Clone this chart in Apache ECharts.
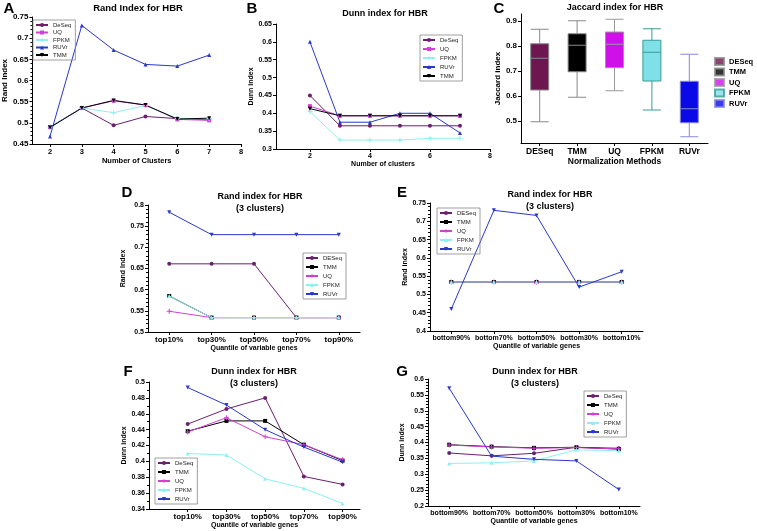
<!DOCTYPE html>
<html>
<head>
<meta charset="utf-8">
<script src="https://cdn.jsdelivr.net/npm/echarts@6/dist/echarts.min.js"></script>
<style>
  html, body { margin: 0; padding: 0; background: #fff; }
  #chart { width: 757px; height: 531px; }
</style>
</head>
<body>
<div id="chart"></div>
<script>
// A / B : number of clusters
var clusterCounts = [2, 3, 4, 5, 6, 7];
var randA_DeSeq = [0.490, 0.535, 0.494, 0.515, 0.510, 0.507];
var randA_UQ = [0.490, 0.535, 0.552, 0.542, 0.508, 0.506];
var randA_FPKM = [0.490, 0.535, 0.524, 0.541, 0.510, 0.510];
var randA_RUVr = [0.468, 0.730, 0.672, 0.638, 0.634, 0.660];
var randA_TMM = [0.489, 0.535, 0.553, 0.542, 0.509, 0.511];

var dunnB_DeSeq = [0.450, 0.365, 0.365, 0.365, 0.365, 0.365];
var dunnB_UQ = [0.420, 0.393, 0.393, 0.393, 0.393, 0.393];
var dunnB_FPKM = [0.405, 0.325, 0.325, 0.325, 0.330, 0.330];
var dunnB_RUVr = [0.600, 0.375, 0.375, 0.400, 0.400, 0.345];
var dunnB_TMM = [0.413, 0.393, 0.393, 0.393, 0.393, 0.393];

// C : jaccard index, [min, q1, median, q3, max]
var methods = ['DESeq', 'TMM', 'UQ', 'FPKM', 'RUVr'];
var jaccardBoxes = [
  [0.497, 0.624, 0.751, 0.809, 0.867],
  [0.595, 0.697, 0.803, 0.849, 0.901],
  [0.621, 0.713, 0.807, 0.856, 0.907],
  [0.544, 0.660, 0.775, 0.823, 0.869],
  [0.437, 0.493, 0.549, 0.659, 0.767]
];
var jaccardTicks = [0.5, 0.6, 0.7, 0.8, 0.9];

// D / F : top quantiles, E / G : bottom quantiles
var topQuantiles = ['top10%', 'top30%', 'top50%', 'top70%', 'top90%'];
var bottomQuantiles = ['bottom90%', 'bottom70%', 'bottom50%', 'bottom30%', 'bottom10%'];

var randD_DESeq = [0.661, 0.661, 0.661, 0.534, 0.534];
var randD_TMM = [0.585, 0.534, 0.534, 0.534, 0.534];
var randD_UQ = [0.549, 0.534, 0.534, 0.534, 0.534];
var randD_FPKM = [0.585, 0.534, 0.534, 0.534, 0.534];
var randD_RUVr = [0.783, 0.730, 0.730, 0.730, 0.730];

var randE_DESeq = [0.534, 0.534, 0.534, 0.534, 0.534];
var randE_TMM = [0.534, 0.534, 0.534, 0.534, 0.534];
var randE_UQ = [0.534, 0.534, 0.534, 0.534, 0.534];
var randE_FPKM = [0.534, 0.534, 0.534, 0.534, 0.534];
var randE_RUVr = [0.460, 0.730, 0.716, 0.520, 0.562];

var dunnF_DeSeq = [0.447, 0.466, 0.480, 0.381, 0.371];
var dunnF_TMM = [0.438, 0.451, 0.451, 0.421, 0.401];
var dunnF_UQ = [0.437, 0.455, 0.431, 0.421, 0.402];
var dunnF_FPKM = [0.410, 0.408, 0.378, 0.366, 0.347];
var dunnF_RUVr = [0.493, 0.471, 0.440, 0.418, 0.399];

var dunnG_DeSeq = [0.367, 0.358, 0.366, 0.385, 0.382];
var dunnG_TMM = [0.393, 0.387, 0.383, 0.385, 0.379];
var dunnG_UQ = [0.392, 0.386, 0.382, 0.384, 0.380];
var dunnG_FPKM = [0.334, 0.336, 0.342, 0.377, 0.374];
var dunnG_RUVr = [0.571, 0.357, 0.347, 0.342, 0.252];

var FONT = '"Liberation Sans", Arial, sans-serif';
var cDeSeq = '#6b1f6e';
var cTMM = '#000000';
var cUQ = '#d23fd6';
var cFPKM = '#8ef0f0';
var cRUVr = '#2a38cc';
var boxFill = ['#6e1650', '#000000', '#d010e8', '#80e0e8', '#0a0ae6'];
var boxEdge = ['#888888', '#888888', '#999999', '#3a9a9a', '#8888dd'];

var triDown = 'path://M0,0L10,0L5,9Z';
var plusMark = 'path://M4,0H6V4H10V6H6V10H4V6H0V4H4Z';

function pairs (xs, ys) {
  return ys.map(function (v, i) { return [xs[i], v] })
}
function indexed (ys) {
  return ys.map(function (v, i) { return [i + 1, v] })
}

function line (name, idx, data, color, symbol, size, z) {
  return {
    type: 'line',
    name: name,
    xAxisIndex: idx,
    yAxisIndex: idx,
    data: data,
    symbol: symbol,
    symbolSize: size || 4,
    showAllSymbol: true,
    z: z || 2,
    lineStyle: { color: color, width: 1 },
    itemStyle: { color: color },
    animation: false
  }
}

var axisBase = {
  axisLine: { show: true, onZero: false, lineStyle: { color: '#000', width: 1 } },
  axisTick: { show: true, length: 3, lineStyle: { color: '#000' } },
  splitLine: { show: false }
}

function yAx (idx, min, max, interval, name, gap, fs, minor) {
  return Object.assign({}, axisBase, {
    type: 'value',
    gridIndex: idx,
    min: min,
    max: max,
    interval: interval,
    name: name,
    nameLocation: 'middle',
    nameGap: gap,
    nameTextStyle: { fontFamily: FONT, fontWeight: 'bold', fontSize: fs, color: '#000' },
    axisLabel: { fontFamily: FONT, fontWeight: 'bold', fontSize: fs, color: '#000', margin: 4 },
    minorTick: { show: !!minor, splitNumber: minor || 5, length: 2, lineStyle: { color: '#000' } }
  })
}

function xCat (idx, cats, name, gap, fs, lfs) {
  return Object.assign({}, axisBase, {
    type: 'category',
    gridIndex: idx,
    data: cats,
    boundaryGap: true,
    name: name,
    nameLocation: 'middle',
    nameGap: gap,
    nameTextStyle: { fontFamily: FONT, fontWeight: 'bold', fontSize: fs, color: '#000' },
    axisTick: { show: true, alignWithLabel: true, length: 3, lineStyle: { color: '#000' } },
    axisLabel: { fontFamily: FONT, fontWeight: 'bold', fontSize: lfs || fs, color: '#000', margin: 4, interval: 0 }
  })
}

function xVal (idx, min, max, ticks, name, gap, fs, fmt, lfs) {
  return Object.assign({}, axisBase, {
    type: 'value',
    gridIndex: idx,
    min: min,
    max: max,
    name: name,
    nameLocation: 'middle',
    nameGap: gap,
    nameTextStyle: { fontFamily: FONT, fontWeight: 'bold', fontSize: fs, color: '#000' },
    axisTick: { show: true, length: 3, customValues: ticks, lineStyle: { color: '#000' } },
    axisLabel: { fontFamily: FONT, fontWeight: 'bold', fontSize: lfs || fs, color: '#000', margin: 4, customValues: ticks, formatter: fmt }
  })
}

function legendFor (names, left, top, gap) {
  return {
    data: names,
    left: left,
    top: top,
    orient: 'vertical',
    itemWidth: 12,
    itemHeight: 5,
    itemGap: gap,
    padding: [2, 4, 2, 2],
    borderColor: '#888',
    borderWidth: 0.8,
    selectedMode: false,
    textStyle: { fontFamily: FONT, fontSize: 6, color: '#222' },
    formatter: function (n) { return n.split('|')[0] }
  }
}

function txt (x, y, s, size, lh) {
  return {
    type: 'text',
    x: x,
    y: y,
    style: {
      text: s,
      font: 'bold ' + size + 'px ' + FONT,
      lineHeight: lh || size,
      fill: '#000',
      align: 'center',
      verticalAlign: 'middle'
    }
  }
}

var series = [
  // A
  line('DeSeq|A', 0, pairs(clusterCounts, randA_DeSeq), cDeSeq, 'circle', 4),
  line('UQ|A', 0, pairs(clusterCounts, randA_UQ), cUQ, 'rect', 4),
  line('FPKM|A', 0, pairs(clusterCounts, randA_FPKM), cFPKM, plusMark, 5),
  line('RUVr|A', 0, pairs(clusterCounts, randA_RUVr), cRUVr, 'triangle', 4),
  line('TMM|A', 0, pairs(clusterCounts, randA_TMM), cTMM, triDown, 4),
  // B
  line('DeSeq|B', 1, pairs(clusterCounts, dunnB_DeSeq), cDeSeq, 'circle', 4),
  line('UQ|B', 1, pairs(clusterCounts, dunnB_UQ), cUQ, 'rect', 4),
  line('FPKM|B', 1, pairs(clusterCounts, dunnB_FPKM), cFPKM, plusMark, 5),
  line('RUVr|B', 1, pairs(clusterCounts, dunnB_RUVr), cRUVr, 'triangle', 4),
  line('TMM|B', 1, pairs(clusterCounts, dunnB_TMM), cTMM, triDown, 4),
  // C
  {
    type: 'boxplot',
    xAxisIndex: 2,
    yAxisIndex: 2,
    boxWidth: [18, 18],
    animation: false,
    data: jaccardBoxes.map(function (b, i) {
      return { value: b, itemStyle: { color: boxFill[i], borderColor: boxEdge[i], borderWidth: 1 } }
    })
  },
  // D
  line('DESeq|D', 3, randD_DESeq, cDeSeq, 'circle', 4),
  line('TMM|D', 3, randD_TMM, cTMM, 'rect', 4, 1),
  line('UQ|D', 3, randD_UQ, cUQ, plusMark, 5),
  line('FPKM|D', 3, randD_FPKM, cFPKM, 'triangle', 4, 3),
  line('RUVr|D', 3, randD_RUVr, cRUVr, triDown, 4),
  // E
  line('DESeq|E', 4, randE_DESeq, cDeSeq, 'circle', 4),
  line('TMM|E', 4, randE_TMM, cTMM, 'rect', 4),
  line('UQ|E', 4, randE_UQ, cUQ, plusMark, 5),
  line('FPKM|E', 4, randE_FPKM, cFPKM, 'triangle', 4),
  line('RUVr|E', 4, randE_RUVr, cRUVr, triDown, 4),
  // F
  line('DeSeq|F', 5, indexed(dunnF_DeSeq), cDeSeq, 'circle', 4),
  line('TMM|F', 5, indexed(dunnF_TMM), cTMM, 'rect', 4),
  line('UQ|F', 5, indexed(dunnF_UQ), cUQ, plusMark, 5),
  line('FPKM|F', 5, indexed(dunnF_FPKM), cFPKM, 'triangle', 4),
  line('RUVr|F', 5, indexed(dunnF_RUVr), cRUVr, triDown, 4),
  // G
  line('DeSeq|G', 6, dunnG_DeSeq, cDeSeq, 'circle', 4),
  line('TMM|G', 6, dunnG_TMM, cTMM, 'rect', 4),
  line('UQ|G', 6, dunnG_UQ, cUQ, plusMark, 5),
  line('FPKM|G', 6, dunnG_FPKM, cFPKM, 'triangle', 4),
  line('RUVr|G', 6, dunnG_RUVr, cRUVr, triDown, 4)
]

// empty series so panel C gets a legend with the box colours
methods.forEach(function (m, i) {
  series.push({
    type: 'scatter',
    name: m + '|C',
    xAxisIndex: 2,
    yAxisIndex: 2,
    data: [],
    itemStyle: { color: boxFill[i], borderColor: boxEdge[i], borderWidth: 0.8 }
  })
})

function names (panel, list) {
  return list.map(function (n) { return n + '|' + panel })
}

var chart = echarts.init(document.getElementById('chart'), null, { renderer: 'canvas' })
chart.setOption({
  backgroundColor: '#fff',
  animation: false,
  grid: [
    { left: 30, top: 17, width: 211, height: 127 },
    { left: 276, top: 24, width: 214, height: 125 },
    { left: 521, top: 14, width: 187, height: 129 },
    { left: 148, top: 205, width: 212, height: 127 },
    { left: 430, top: 203, width: 213, height: 128 },
    { left: 149, top: 382, width: 211, height: 127 },
    { left: 428, top: 379, width: 212, height: 127 }
  ],
  xAxis: [
    xVal(0, 1.45, 8, [2, 3, 4, 5, 6, 7, 8], 'Number of Clusters', 11, 7.5),
    xVal(1, 0.87, 8, [2, 4, 6, 8], 'Number of clusters', 10, 7),
    xCat(2, methods, 'Normalization Methods', 12, 8.5),
    xCat(3, topQuantiles, 'Quantile of variable genes', 11, 7, 8),
    xCat(4, bottomQuantiles, 'Quantile of variable genes', 10, 7, 7),
    xVal(5, 0, 5.45, [1, 2, 3, 4, 5], 'Quantile of variable genes', 12, 7,
      function (v) { return topQuantiles[v - 1] || '' }, 8),
    xCat(6, bottomQuantiles, 'Quantile of variable genes', 11, 7, 7)
  ],
  yAxis: [
    yAx(0, 0.45, 0.75, 0.05, 'Rand Index', 21, 8, 5),
    yAx(1, 0.3, 0.65, 0.05, 'Dunn index', 19, 7),
    Object.assign(yAx(2, 0.412, 0.928, 0.1, 'Jaccard index', 18, 8), {
      interval: null,
      axisLabel: { fontFamily: FONT, fontWeight: 'bold', fontSize: 8, color: '#000', margin: 4, customValues: jaccardTicks },
      axisTick: { show: true, length: 3, customValues: jaccardTicks, lineStyle: { color: '#000' } }
    }),
    yAx(3, 0.5, 0.8, 0.05, 'Rand Index', 21, 7, 5),
    yAx(4, 0.4, 0.75, 0.05, 'Rand index', 20, 7, 5),
    yAx(5, 0.34, 0.5, 0.02, 'Dunn index', 21, 7, 2),
    yAx(6, 0.2, 0.6, 0.05, 'Dunn index', 22, 7, 5)
  ],
  legend: [
    legendFor(names('A', ['DeSeq', 'UQ', 'FPKM', 'RUVr', 'TMM']), 33, 20, 1.5),
    legendFor(names('B', ['DeSeq', 'UQ', 'FPKM', 'RUVr', 'TMM']), 420, 35, 3),
    legendFor(names('D', ['DESeq', 'TMM', 'UQ', 'FPKM', 'RUVr']), 303, 253, 3),
    legendFor(names('E', ['DESeq', 'TMM', 'UQ', 'FPKM', 'RUVr']), 437, 208, 3),
    legendFor(names('F', ['DeSeq', 'TMM', 'UQ', 'FPKM', 'RUVr']), 155, 458, 3),
    legendFor(names('G', ['DeSeq', 'TMM', 'UQ', 'FPKM', 'RUVr']), 584, 391, 3),
    {
      data: names('C', methods),
      left: 714,
      top: 57,
      padding: 0,
      orient: 'vertical',
      icon: 'rect',
      itemWidth: 9,
      itemHeight: 7,
      itemGap: 1.5,
      selectedMode: false,
      textStyle: { fontFamily: FONT, fontSize: 7.5, fontWeight: 'bold', color: '#000' },
      formatter: function (n) { return n.split('|')[0] }
    }
  ],
  graphic: [
    txt(9, 8.5, 'A', 15),
    txt(252, 8.5, 'B', 15),
    txt(499, 8.5, 'C', 15),
    txt(127, 192.5, 'D', 15),
    txt(402, 192.5, 'E', 15),
    txt(128, 371.5, 'F', 15),
    txt(402, 371.5, 'G', 15),
    txt(138, 8, 'Rand Index for HBR', 9.5),
    txt(385, 14, 'Dunn index for HBR', 9),
    txt(615, 7.5, 'Jaccard index for HBR', 9),
    txt(260, 203, 'Rand index for HBR\n(3 clusters)', 9, 12),
    txt(550, 201, 'Rand index for HBR\n(3 clusters)', 9, 12),
    txt(254, 378, 'Dunn index for HBR\n(3 clusters)', 9, 12),
    txt(535, 378, 'Dunn index for HBR\n(3 clusters)', 9, 12)
  ],
  series: series
})
</script>
</body>
</html>
